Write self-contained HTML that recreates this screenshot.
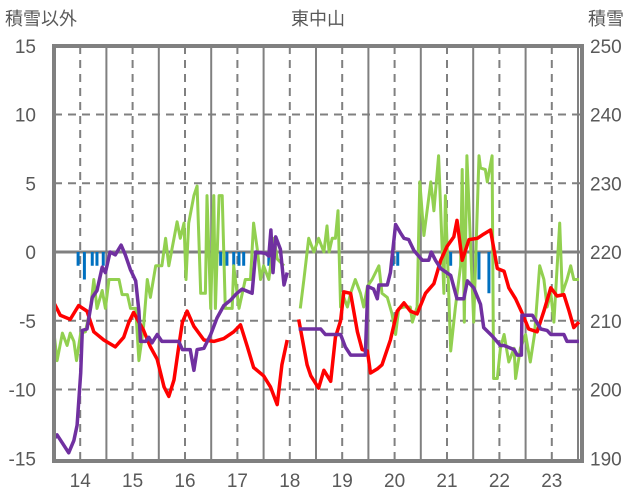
<!DOCTYPE html>
<html><head><meta charset="utf-8"><style>
body{margin:0;background:#fff;}
svg{display:block;font-family:"Liberation Sans","Noto Sans CJK JP",sans-serif;}
</style></head><body>
<svg id="chart" width="636" height="501" viewBox="0 0 636 501" xmlns="http://www.w3.org/2000/svg">
<g id="grid"></g>
<g id="bars"></g>
<g id="lines"></g>
<rect x="54" y="46" width="528" height="415" fill="none" stroke="#808080" stroke-width="4"/>
<g id="labels" fill="#595959" font-size="19"></g>
<text x="5" y="25" font-size="18" fill="#595959">積雪以外</text>
<text x="318" y="25" font-size="18" fill="#595959" text-anchor="middle">東中山</text>
<text x="588" y="25" font-size="18" fill="#595959">積雪</text>
</svg>
<script>
const xTicks=[14,15,16,17,18,19,20,21,22,23];
const yTicks=[15,10,5,0,-5,-10,-15];
const yTicksRight=[250,240,230,220,210,200,190];
const redT=[13.50,13.62,13.81,13.97,14.13,14.26,14.45,14.67,14.83,14.93,15.02,15.21,15.34,15.47,15.60,15.69,15.79,15.88,15.95,16.04,16.17,16.36,16.55,16.74,16.93,17.06,17.19,17.31,17.50,17.63,17.76,17.85,17.95,null,18.17,18.33,18.40,18.55,18.65,18.78,18.87,18.97,19.03,19.16,19.29,19.38,19.48,19.54,19.67,19.76,19.92,20.05,20.18,20.30,20.43,20.59,20.75,20.88,21.00,21.13,21.19,21.29,21.42,21.58,21.70,21.83,21.96,22.09,22.18,22.31,22.43,22.56,22.72,22.85,22.98,23.10,23.23,23.33,23.42,23.52];
const redV=[-3.7,-4.6,-4.9,-3.9,-4.3,-5.8,-6.4,-6.9,-6.2,-5.1,-4.4,-5.7,-6.9,-7.8,-9.8,-10.5,-9.3,-6.9,-5.1,-4.3,-5.4,-6.4,-6.5,-6.3,-5.8,-5.3,-6.9,-8.4,-9.0,-9.8,-11.1,-8.2,-6.4,null,-4.9,-8.2,-9.0,-9.9,-8.6,-9.4,-6.2,-5.0,-2.9,-3.0,-5.8,-7.1,-7.2,-8.8,-8.5,-8.2,-6.4,-4.3,-3.7,-4.3,-4.5,-3.0,-2.3,-0.6,0.4,1.1,2.3,-0.6,0.9,1.0,1.3,1.6,-1.2,-1.4,-2.6,-3.4,-4.4,-5.6,-5.8,-4.3,-2.6,-3.2,-3.1,-4.3,-5.5,-5.1];
const purpleT=[13.50,13.56,13.66,13.78,13.88,13.94,14.01,14.04,14.13,14.23,14.32,14.42,14.48,14.57,14.67,14.78,14.86,14.96,15.06,15.12,15.15,15.25,15.31,15.37,15.47,15.56,15.88,15.95,16.10,16.17,16.23,16.36,16.49,16.61,16.74,16.87,16.99,17.09,17.28,17.35,17.54,17.60,17.64,17.68,17.73,17.82,17.89,17.95,null,18.17,18.59,18.68,18.97,19.06,19.16,19.44,19.49,19.60,19.67,19.70,19.86,19.92,20.02,20.11,20.18,20.27,20.37,20.53,20.65,20.70,20.78,20.88,21.07,21.19,21.32,21.39,21.51,21.64,21.70,21.86,22.02,22.09,22.28,22.34,22.42,22.43,22.63,22.79,22.91,22.98,23.23,23.29,23.52];
const purpleV=[-13.6,-13.3,-13.9,-14.6,-13.7,-12.6,-8.8,-5.7,-5.6,-3.3,-2.8,-1.1,-1.5,0,-0.2,0.5,-0.2,-1.3,-2.1,-4.3,-6.5,-6.5,-6.2,-6.6,-6.0,-6.5,-6.5,-7.1,-7.1,-8.6,-7.1,-7.0,-6.0,-4.8,-3.9,-3.5,-3.0,-2.7,-3.0,0,-0.1,-0.3,1.6,-1.5,1.1,0.2,-2.4,-1.5,null,-5.6,-5.6,-6.0,-6.0,-6.9,-7.5,-7.5,-2.5,-2.7,-3.4,-2.4,-2.4,-1.5,2.0,1.4,1.0,0.9,0.1,-0.6,-0.6,0,-0.6,-1.2,-1.7,-3.4,-3.4,-2.1,-2.6,-3.8,-5.5,-6.1,-6.8,-6.8,-7.1,-7.5,-7.5,-4.6,-4.6,-5.6,-5.7,-6.0,-6.0,-6.5,-6.5];
const greenT=[13.50,13.56,13.66,13.75,13.81,13.88,13.93,14.01,14.10,14.20,14.26,14.32,14.42,14.48,14.55,14.74,14.80,14.90,14.96,15.06,15.12,15.21,15.28,15.34,15.44,15.56,15.63,15.69,15.79,15.85,15.91,15.98,16.02,16.07,16.17,16.23,16.30,16.39,16.42,16.49,16.55,16.58,16.65,16.71,16.77,16.90,16.93,17.03,17.15,17.25,17.31,17.38,17.44,17.50,17.60,17.70,17.76,17.89,null,18.20,18.27,18.36,18.46,18.55,18.65,18.71,18.75,18.81,18.87,18.92,18.97,19.03,19.10,19.16,19.25,19.35,19.41,19.48,19.57,19.70,19.76,19.86,19.95,20.02,20.08,20.18,20.30,20.34,20.43,20.48,20.56,20.69,20.75,20.84,20.94,20.97,21.07,21.16,21.26,21.29,21.33,21.38,21.51,21.61,21.64,21.73,21.77,21.86,21.89,21.96,22.02,22.09,22.18,22.28,22.31,22.40,22.50,22.59,22.67,22.77,22.85,22.91,22.98,23.04,23.15,23.20,23.29,23.36,23.42,23.52];
const greenV=[-5.9,-7.9,-5.9,-6.8,-5.9,-6.5,-7.9,-5.9,-5.8,-4.0,-2.0,-4.1,-2.8,-4.1,-2.0,-2.0,-3.1,-3.1,-4.1,-4.1,-7.9,-5.4,-2.0,-3.3,-1.0,-1.0,1.0,-1.0,1.0,2.2,1.0,2.1,-2.0,2.1,4.1,4.8,-3.0,-3.0,4.1,-4.1,4.1,-4.1,4.1,4.1,-4.1,-4.1,-1.0,-4.1,-2.0,-2.0,2.1,0.2,-2.0,-1.0,-2.0,1.0,-0.5,-1.0,null,-4.1,-2.0,1.0,0,1.0,0,1.9,0,1.0,1.0,3.0,-4.0,-3.3,-4.0,-3.0,-2.0,-3.0,-4.0,-2.5,-2.0,-1.0,-3.0,-3.3,-4.5,-6.0,-4.1,-4.0,-4.0,-5.1,-4.0,5.1,1.2,5.1,3.0,7.0,-3.0,4.1,-7.2,-4.0,-1.0,6.0,-5.1,7.0,-5.1,7.0,6.1,6.0,5.1,7.0,-9.2,-9.2,-7.0,-6.0,-8.0,-7.0,-9.2,-7.0,-6.0,-8.0,-6.0,-1.0,-2.0,-4.0,-3.0,-5.1,2.1,-3.0,-2.0,-1.0,-2.0,-2.0];
const barT=[13.96,14.08,14.23,14.32,14.44,16.68,16.80,16.93,17.03,17.12,17.60,19.97,20.06,21.07,21.61,21.80];
const barV=[-1.0,-2.0,-1.0,-1.0,-1.0,-1.0,-1.0,-1.0,-1.0,-1.0,-1.0,-1.0,-1.0,-1.0,-2.0,-3.0];

const NS="http://www.w3.org/2000/svg";
function X(t){return 54+(t-13.5)*52.4;}
function Y(v){return 252-v*13.75;}
function mk(tag,attrs,parent){const e=document.createElementNS(NS,tag);for(const k in attrs)e.setAttribute(k,attrs[k]);parent.appendChild(e);return e;}
const grid=document.getElementById('grid');
// horizontal gridlines
yTicks.forEach(v=>{
  if(v===15||v===-15)return;
  const l=mk('line',{x1:54,x2:582,y1:Y(v),y2:Y(v),stroke:'#808080','stroke-width':v===0?3:2,'stroke-dasharray':v===0?'none':'8,6'},grid);
  
  
});
// vertical lines
xTicks.forEach(t=>{
  const d=mk('line',{x1:X(t),x2:X(t),y1:46,y2:461,stroke:'#808080','stroke-width':2,'stroke-dasharray':'8,6'},grid);
  
  
  if(t<23.5){const s=mk('line',{x1:X(t+0.5),x2:X(t+0.5),y1:46,y2:461,stroke:'#808080','stroke-width':2},grid);
  
  }
});
// bars
const bars=document.getElementById('bars');
barT.forEach((t,i)=>{
  const r=mk('rect',{x:X(t)-1.5,y:Y(0),width:3,height:Y(barV[i])-Y(0),fill:'#0070c0'},bars);
  
  
});
// lines
function path(ts,vs){let d='',pen=false;ts.forEach((t,i)=>{if(t===null||vs[i]===null){pen=false;return;}d+=(pen?'L':'M')+X(t).toFixed(1)+','+Y(vs[i]).toFixed(1);pen=true;});return d;}
const lines=document.getElementById('lines');
const g=mk('path',{d:path(greenT,greenV),fill:'none',stroke:'#92d050','stroke-width':3,'stroke-linejoin':'round'},lines);


const r=mk('path',{d:path(redT,redV),fill:'none',stroke:'#ff0000','stroke-width':3.5,'stroke-linejoin':'round'},lines);


const p=mk('path',{d:path(purpleT,purpleV),fill:'none',stroke:'#7030a0','stroke-width':3.5,'stroke-linejoin':'round'},lines);


// labels
const labels=document.getElementById('labels');
yTicks.forEach(v=>{const t=mk('text',{x:36,y:Y(v)+7,'text-anchor':'end'},labels);t.textContent=v;
  
  });
yTicksRight.forEach((v,i)=>{const t=mk('text',{x:590,y:Y(yTicks[i])+7},labels);t.textContent=v;
  
  });
xTicks.forEach(v=>{const t=mk('text',{x:X(v),y:487,'text-anchor':'middle'},labels);t.textContent=v;
  
  });
</script>
</body></html>
